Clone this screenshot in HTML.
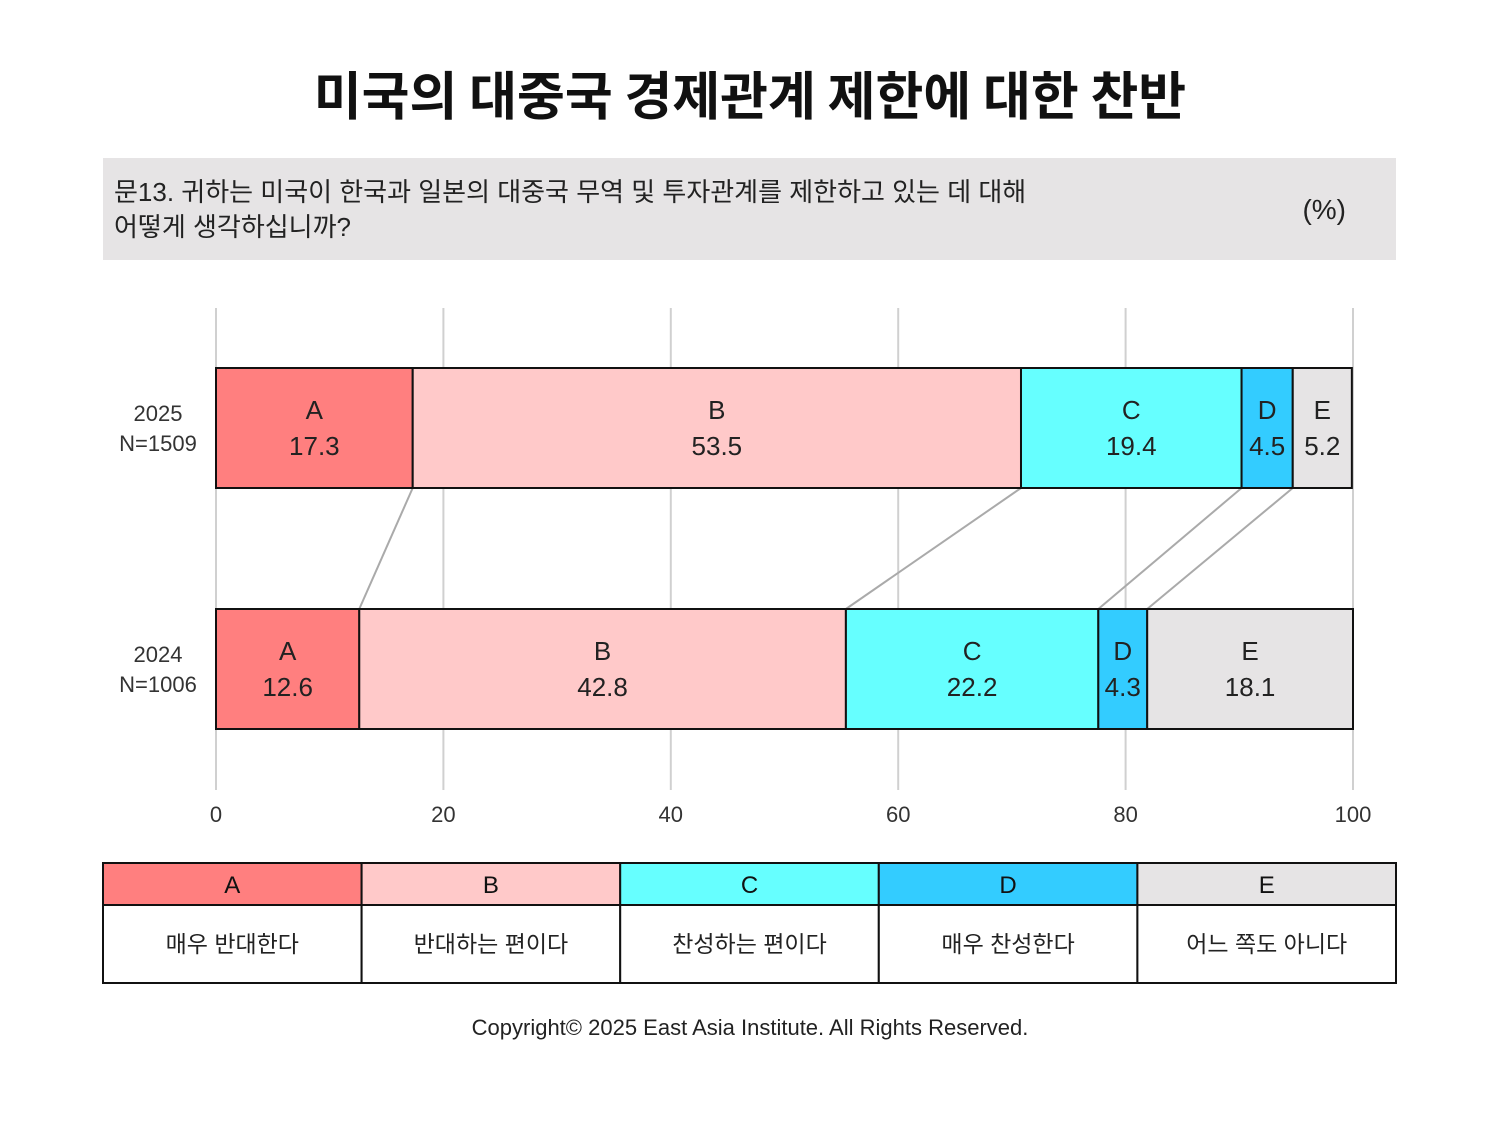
<!DOCTYPE html>
<html><head><meta charset="utf-8"><style>
body{margin:0;width:1500px;height:1125px;background:#fff;font-family:"Liberation Sans","Noto Sans CJK KR",sans-serif;overflow:hidden}
svg{position:absolute;left:0;top:0}
</style></head><body>
<svg width="1500" height="1125" id="chart">
<text x="750" y="115" text-anchor="middle" font-size="52" font-weight="bold" fill="#111" font-family="Noto Sans CJK KR, sans-serif">미국의 대중국 경제관계 제한에 대한 찬반</text>
<rect x="103" y="158" width="1293" height="102" fill="#e6e4e5"/>
<text x="114" y="201" font-size="26" fill="#222">문13. 귀하는 미국이 한국과 일본의 대중국 무역 및 투자관계를 제한하고 있는 데 대해</text>
<text x="114" y="236" font-size="26" fill="#222">어떻게 생각하십니까?</text>
<text x="1346" y="219" text-anchor="end" font-size="28" fill="#222">(%)</text>
<g id="grid"></g><g id="links"></g><g id="bars"></g>
<g id="legend"></g>
<text x="750" y="1035" text-anchor="middle" font-size="22" fill="#222">Copyright© 2025 East Asia Institute. All Rights Reserved.</text>
</svg>
<script>
const years=["2025","2024"];
const samples=["N=1509","N=1006"];
const cats=["A","B","C","D","E"];
const vals2025=[17.3,53.5,19.4,4.5,5.2];
const vals2024=[12.6,42.8,22.2,4.3,18.1];
const ticks=[0,20,40,60,80,100];
const labels=["매우 반대한다","반대하는 편이다","찬성하는 편이다","매우 찬성한다","어느 쪽도 아니다"];
const colors=["#ff7f7f","#ffc9c9","#66ffff","#33ccff","#e6e4e5"];
const NS="http://www.w3.org/2000/svg";
const x=v=>216+v*(1353-216)/100;
const rowY=[368,609],bh=120;
function mk(p,t,a,txt){const e=document.createElementNS(NS,t);for(const k in a)e.setAttribute(k,a[k]);if(txt!=null)e.textContent=txt;document.getElementById(p).appendChild(e);return e;}
ticks.forEach(t=>{
 let l=mk("grid","line",{x1:x(t),x2:x(t),y1:308,y2:790,stroke:"#d0d0d0","stroke-width":2});
 
 
 let tx=mk("grid","text",{x:x(t),y:822,"text-anchor":"middle","font-size":22,fill:"#333"},t);
 
 
});
const series=[vals2025,vals2024];
const cum=series.map(s=>{let c=0;return s.map(v=>{c+=v;return c;});});
for(let i=0;i<4;i++){
 let l=mk("links","line",{x1:x(cum[0][i]),y1:rowY[0]+bh,x2:x(cum[1][i]),y2:rowY[1],stroke:"#aaa","stroke-width":2});
 
 
}
series.forEach((s,r)=>{
 let c=0;const y=rowY[r];
 let yl=mk("bars","text",{x:158,y:y+53,"text-anchor":"middle","font-size":22,fill:"#333"},years[r]);
 
 
 let nl=mk("bars","text",{x:158,y:y+83,"text-anchor":"middle","font-size":22,fill:"#333"},samples[r]);
 
 
 s.forEach((v,i)=>{
  const x0=x(c),x1=x(c+v);c+=v;
  let b=mk("bars","rect",{x:x0,y:y,width:x1-x0,height:bh,fill:colors[i],stroke:"#111","stroke-width":2});
  
  
  const cx=(x0+x1)/2;
  let t1=mk("bars","text",{x:cx,y:y+51,"text-anchor":"middle","font-size":26,fill:"#222"},cats[i]);
  
  
  let t2=mk("bars","text",{x:cx,y:y+87,"text-anchor":"middle","font-size":26,fill:"#222"},v.toFixed(1));
  
  
 });
});
const lw=(1396-103)/5;
cats.forEach((k,i)=>{
 const lx=103+i*lw;
 let h=mk("legend","rect",{x:lx,y:863,width:lw,height:42,fill:colors[i],stroke:"#111","stroke-width":2});
 
 
 let b=mk("legend","rect",{x:lx,y:905,width:lw,height:78,fill:"#fff",stroke:"#111","stroke-width":2});
 
 
 let t=mk("legend","text",{x:lx+lw/2,y:893,"text-anchor":"middle","font-size":24,fill:"#111"},k);
 
 
 let d=mk("legend","text",{x:lx+lw/2,y:952,"text-anchor":"middle","font-size":23,fill:"#222"},labels[i]);
 
 
});
</script>
</body></html>
